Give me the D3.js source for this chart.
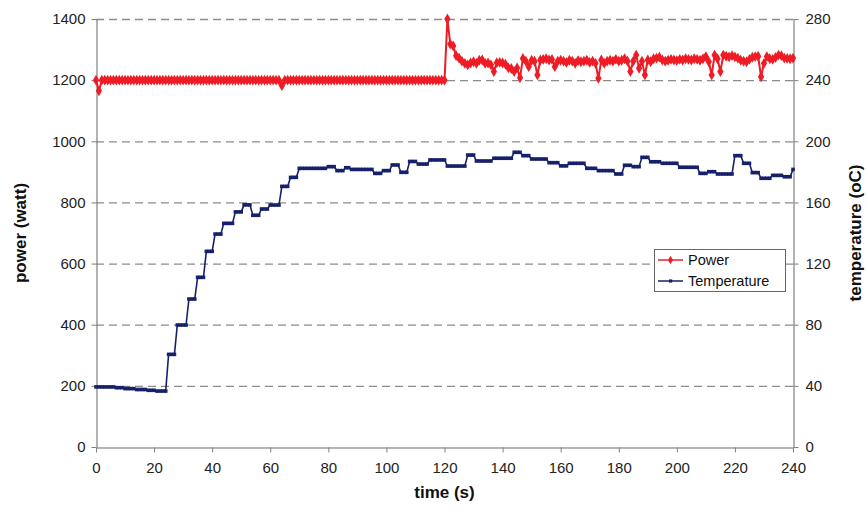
<!DOCTYPE html>
<html><head><meta charset="utf-8">
<script src="https://cdnjs.cloudflare.com/ajax/libs/d3/7.8.5/d3.min.js"></script>
<style>
html,body{margin:0;padding:0;background:#fff;}
svg text{font-family:"Liberation Sans",Arial,sans-serif;}
</style></head>
<body><svg id="c" width="867" height="509"></svg>
<script>
// ---- data ----
const timeTicks = [0,20,40,60,80,100,120,140,160,180,200,220,240];
const powerTicks = [0,200,400,600,800,1000,1200,1400];
const tempTicks = [0,40,80,120,160,200,240,280];
const seriesNames = ["Power","Temperature"];
// sample times (s), one per second
const times = d3.range(0, 241, 1);
// power (watt), t = 0..240
const power = [
1200,1165,1200,1200,1200,1200,1200,1200,1200,1200,
1200,1200,1200,1200,1200,1200,1200,1200,1200,1200,
1200,1200,1200,1200,1200,1200,1200,1200,1200,1200,
1200,1200,1200,1200,1200,1200,1200,1200,1200,1200,
1200,1200,1200,1200,1200,1200,1200,1200,1200,1200,
1200,1200,1200,1200,1200,1200,1200,1200,1200,1200,
1200,1200,1200,1200,1182,1200,1200,1200,1200,1200,
1200,1200,1200,1200,1200,1200,1200,1200,1200,1200,
1200,1200,1200,1200,1200,1200,1200,1200,1200,1200,
1200,1200,1200,1200,1200,1200,1200,1200,1200,1200,
1200,1200,1200,1200,1200,1200,1200,1200,1200,1200,
1200,1200,1200,1200,1200,1200,1200,1200,1200,1200,
1200,1400,1318,1312,1280,1272,1262,1255,1250,1256,
1260,1255,1265,1266,1255,1256,1250,1228,1257,1258,
1256,1252,1240,1238,1228,1240,1208,1271,1262,1244,
1265,1262,1217,1266,1268,1270,1266,1268,1244,1262,
1265,1262,1258,1265,1262,1255,1264,1260,1262,1265,
1258,1262,1255,1206,1266,1255,1262,1265,1262,1268,
1262,1265,1270,1262,1228,1262,1282,1239,1262,1217,
1266,1260,1270,1272,1275,1266,1262,1265,1268,1266,
1264,1268,1266,1270,1268,1266,1270,1268,1265,1270,
1277,1260,1217,1282,1270,1228,1282,1278,1276,1280,
1276,1272,1265,1262,1260,1268,1275,1277,1278,1211,
1255,1277,1270,1268,1274,1282,1280,1272,1271,1270,
1272];
// temperature (oC), t = 0..240
const temperature = [
39.3,39.3,39.3,39.3,39.3,39.3,39.3,38.8,38.8,38.8,
38.2,38.2,38.2,38.2,37.6,37.6,37.6,37.6,37.1,37.1,
37.1,36.6,36.6,36.6,36.6,60.6,60.6,60.6,79.8,79.8,
79.8,79.8,96.8,96.8,96.8,111,111,111,128,128,
128,139.3,139.3,139.3,146.3,146.3,146.3,146.3,153.8,153.8,
153.8,158.4,158.4,158.4,151.6,151.6,151.6,155.7,155.7,155.7,
158.3,158.3,158.3,158.3,170.5,170.5,170.5,176.4,176.4,176.4,
182.3,182.3,182.3,182.3,182.3,182.3,182.3,182.3,182.3,182.3,
183.4,183.4,183.4,180.8,180.8,180.8,182.7,182.7,181.6,181.6,
181.6,181.6,181.6,181.6,181.6,181.6,179,179,179,180.8,
180.8,180.8,184.5,184.5,184.5,179.7,179.7,179.7,186.8,186.8,
186.8,185.1,185.1,185.1,185.1,187.8,187.8,187.8,187.8,187.8,
187.8,183.8,183.8,183.8,183.8,183.8,183.8,183.8,191,191,
191,187.1,187.1,187.1,187.1,187.1,187.1,188.9,188.9,188.9,
188.9,188.9,188.9,188.9,192.8,192.8,192.8,190.6,190.6,190.6,
188.4,188.4,188.4,188.4,188.4,188.4,186,186,186,186,
183.9,183.9,183.9,185.6,185.6,185.6,185.6,185.6,185.6,182.3,
182.3,182.3,182.3,180.8,180.8,180.8,180.8,180.8,180.8,178.6,
178.6,178.6,184.3,184.3,184.3,183.4,183.4,183.4,189.5,189.5,
189.5,186.6,186.6,186.6,186.6,185.6,185.6,185.6,185.6,185.6,
185.6,183,183,183,183,183,183,183,179,179,
179,180.1,180.1,180.1,178.6,178.6,178.6,178.6,178.6,178.6,
190.6,190.6,190.6,185.6,185.6,185.6,179.5,179.5,179.5,175.8,
175.8,175.8,175.8,177.7,177.7,177.7,177.7,176.8,176.8,176.8,
181.6];

// ---- chart ----
const svg = d3.select("#c");
const L = 96, R = 793, T = 19, B = 447;
const x = d3.scaleLinear().domain([0,240]).range([L,R]);
const yP = d3.scaleLinear().domain([0,1400]).range([B,T]);
const yT = d3.scaleLinear().domain([0,280]).range([B,T]);
const redC = "#ee1c25", navyC = "#17206b";
const fmt = d3.format("d");

// gridlines
svg.append("g").selectAll("line").data(powerTicks.filter(d=>d>0)).join("line")
  .attr("x1",L).attr("x2",R).attr("y1",d=>yP(d)+0.5).attr("y2",d=>yP(d)+0.5)
  .attr("stroke","#8c8c8c").attr("stroke-width",1.3).attr("stroke-dasharray","8,5");

// axes
const fontSize = "15px", tc = "#222";
const gl = svg.append("g").attr("transform",`translate(${L+0.5},0)`)
  .call(d3.axisLeft(yP).tickValues(powerTicks).tickFormat(fmt).tickSize(5).tickPadding(6).tickSizeOuter(0));
const gr = svg.append("g").attr("transform",`translate(${R+0.5},0)`)
  .call(d3.axisRight(yT).tickValues(tempTicks).tickFormat(fmt).tickSize(5).tickPadding(7).tickSizeOuter(0));
const gb = svg.append("g").attr("transform",`translate(0,${B+0.5})`)
  .call(d3.axisBottom(x).tickValues(timeTicks).tickFormat(fmt).tickSize(5).tickPadding(10).tickSizeOuter(0));
[gl,gr,gb].forEach(g=>{
  g.selectAll(".domain").attr("stroke","#808080").attr("stroke-width",1.2);
  g.selectAll(".tick line").attr("stroke","#808080");
  g.selectAll(".tick text").attr("font-size",fontSize).attr("fill",tc)
   .style("font-family","'Liberation Sans',Arial,sans-serif");
});
gb.select(".domain").attr("stroke","#6a6a6a");

// axis titles
svg.append("text").attr("x",(L+R)/2).attr("y",498).attr("text-anchor","middle")
  .attr("font-size","17px").attr("font-weight","bold").attr("fill","#111").text("time (s)");
svg.append("text").attr("transform",`translate(26,${(T+B)/2}) rotate(-90)`).attr("text-anchor","middle")
  .attr("font-size","17px").attr("font-weight","bold").attr("fill","#111").text("power (watt)");
svg.append("text").attr("transform",`translate(861,${(T+B)/2}) rotate(-90)`).attr("text-anchor","middle")
  .attr("font-size","17px").attr("font-weight","bold").attr("fill","#111").text("temperature (oC)");

// series
const pData = times.map((t,i)=>({t, v: power[i]}));
const tData = times.map((t,i)=>({t, v: temperature[i]}));
svg.append("path").datum(tData).attr("fill","none").attr("stroke",navyC).attr("stroke-width",1.6)
  .attr("d", d3.line().x(d=>x(d.t)).y(d=>yT(d.v)));
svg.append("g").selectAll("rect").data(tData).join("rect")
  .attr("x",d=>x(d.t)-1.8).attr("y",d=>yT(d.v)-1.8).attr("width",3.6).attr("height",3.6).attr("fill",navyC);
svg.append("path").datum(pData).attr("fill","none").attr("stroke",redC).attr("stroke-width",2)
  .attr("d", d3.line().x(d=>x(d.t)).y(d=>yP(d.v)));
const diamond = d3.symbol().type(d3.symbolDiamond).size(34);
svg.append("g").selectAll("path").data(pData).join("path")
  .attr("transform",d=>`translate(${x(d.t)},${yP(d.v)})`).attr("d",diamond).attr("fill",redC);

// legend
const lg = svg.append("g").attr("transform","translate(654,249)");
lg.append("rect").attr("x",0.5).attr("y",0.5).attr("width",131).attr("height",42)
  .attr("fill","#fff").attr("stroke","#666").attr("stroke-width",1);
seriesNames.forEach((name,i)=>{
  const yy = 11 + i*21;
  const c = i===0 ? redC : navyC;
  lg.append("line").attr("x1",4).attr("x2",29).attr("y1",yy).attr("y2",yy).attr("stroke",c).attr("stroke-width",1.5);
  if(i===0) lg.append("path").attr("transform",`translate(16.5,${yy})`).attr("d",d3.symbol().type(d3.symbolDiamond).size(22)).attr("fill",c);
  else lg.append("rect").attr("x",15).attr("y",yy-1.6).attr("width",3.2).attr("height",3.2).attr("fill",c);
  lg.append("text").attr("x",34).attr("y",yy+5).attr("font-size","14.5px").attr("fill","#111").text(name);
});
</script></body></html>
